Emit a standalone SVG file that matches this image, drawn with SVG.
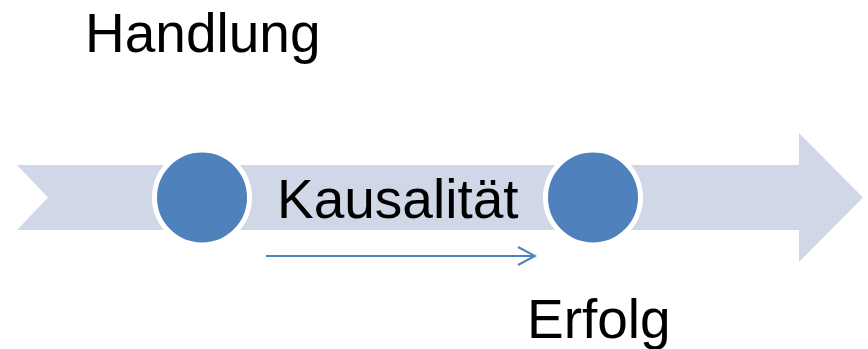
<svg xmlns="http://www.w3.org/2000/svg" width="868" height="349" viewBox="0 0 868 349">
<defs>
<style>
.lbl{font-family:"Liberation Sans",Arial,sans-serif;font-size:55px;fill:#000}
.dot{fill:#4F81BD;stroke:#fff;stroke-width:5}
</style>
<marker id="ah" viewBox="0 0 20 20" refX="18" refY="10" markerWidth="20" markerHeight="20" markerUnits="userSpaceOnUse" orient="auto">
<path d="M1,1 L18,10 L1,19" fill="none" stroke="#4F81BD" stroke-width="2"/>
</marker>
</defs>
<rect width="868" height="349" fill="#fff"/>
<g id="band">
<polygon points="17,165 799,165 799,133 863,197.5 799,262 799,230 17,230 48,197.5" fill="#D0D8E8"/>
</g>
<g id="node-handlung">
<circle class="dot" cx="202" cy="197.5" r="47.5"/>
</g>
<g id="node-erfolg">
<circle class="dot" cx="593" cy="197.5" r="47.5"/>
</g>
<g id="connectors">
<line x1="266" y1="256" x2="535" y2="256" stroke="#4F81BD" stroke-width="2" marker-end="url(#ah)"/>
</g>
<g id="labels">
<text class="lbl" x="85" y="52">Handlung</text>
<text class="lbl" x="277" y="218">Kausalität</text>
<text class="lbl" x="527" y="338">Erfolg</text>
</g>
</svg>
